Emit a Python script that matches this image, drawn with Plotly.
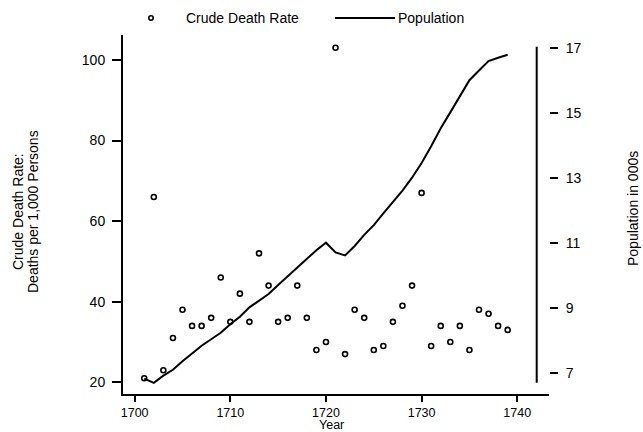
import plotly.graph_objects as go

years = list(range(1701, 1740))
death_rate = [21, 66, 23, 31, 38, 34, 34, 36, 46, 35,
              42, 35, 52, 44, 35, 36, 44, 36, 28, 30,
              103, 27, 38, 36, 28, 29, 35, 39, 44, 67,
              29, 34, 30, 34, 28, 38, 37, 34, 33]
population = [6.82, 6.69, 6.91, 7.09, 7.35, 7.60, 7.83, 8.03, 8.23, 8.49,
              8.72, 9.01, 9.21, 9.42, 9.70, 9.97, 10.23, 10.48, 10.77, 11.00,
              10.70, 10.61, 10.90, 11.24, 11.54, 11.90, 12.25, 12.60, 13.00, 13.45,
              13.97, 14.52, 15.01, 15.50, 16.00, 16.30, 16.59, 16.69, 16.78]

x_ticks = [1700, 1710, 1720, 1730, 1740]
left_ticks = [20, 40, 60, 80, 100]
right_ticks = [7, 9, 11, 13, 15, 17]

FONT = "Liberation Sans, Arial, sans-serif"
FS = 14
# plot area in window pixels (body margin removed by post_script)
PL, PR, PT, PB = 123, 549, 35, 394
W, H = 643, 432
L, R, T, B = PL, W - PR, PT, H - PB
PW, PH = PR - PL, PB - PT

def px(xp):
    return (xp - PL) / PW

def py(yp):
    return (PB - yp) / PH

fig = go.Figure()
fig.add_trace(go.Scatter(
    x=years, y=death_rate, mode="markers", name="Crude Death Rate",
    marker=dict(symbol="circle-open", size=5, color="black", line=dict(width=1.6)),
    yaxis="y", showlegend=False, hoverinfo="skip"))
fig.add_trace(go.Scatter(
    x=years, y=population, mode="lines", name="Population",
    line=dict(color="black", width=2), yaxis="y2", showlegend=False, hoverinfo="skip"))

shapes = [
    # right axis line
    dict(type="line", xref="paper", yref="y2", x0=px(536.7), x1=px(536.7),
         y0=min(population), y1=17.03, line=dict(color="black", width=2)),
    # legend line
    dict(type="line", xref="paper", yref="paper", x0=px(335), x1=px(395),
         y0=py(18), y1=py(18), line=dict(color="black", width=2)),
    # legend marker
    dict(type="circle", xref="paper", yref="paper", x0=px(148.8), x1=px(153.2),
         y0=py(20.2), y1=py(15.8), line=dict(color="black", width=1.6)),
]

def ann(text, x, y, angle=0, xanchor="center", size=FS):
    return dict(text=text, xref="paper", yref="paper", x=px(x), y=py(y),
                xanchor=xanchor, yanchor="middle", textangle=angle, showarrow=False,
                font=dict(size=size, color="black", family=FONT))

annotations = [
    ann("Crude Death Rate", 184, 18, xanchor="left"),
    ann("Population", 396, 18, xanchor="left"),
    ann("Year", 331, 424.5, size=12.5),
    ann("Crude Death Rate:", 18, 212, angle=-90),
    ann("Deaths per 1,000 Persons", 33, 212, angle=-90),
    ann("Population in 000s", 633, 209, angle=-90),
]

fig.update_layout(
    width=W, height=H,
    margin=dict(l=L, r=R, t=T, b=B, pad=0),
    paper_bgcolor="white", plot_bgcolor="white",
    font=dict(family=FONT, size=FS, color="black"),
    showlegend=False,
    xaxis=dict(range=[1698.78, 1743.32], tickvals=x_ticks, ticks="outside",
               ticklen=6, tickwidth=1.5, tickcolor="black",
               tickfont=dict(size=12.5),
               showline=True, linecolor="black", linewidth=2,
               showgrid=False, zeroline=False, ticklabelstandoff=0),
    yaxis=dict(range=[17.10, 106.18], tickvals=left_ticks, ticks="outside",
               ticklen=9, tickwidth=1.5, tickcolor="black",
               showline=True, linecolor="black", linewidth=2,
               showgrid=False, zeroline=False, ticklabelstandoff=4),
    yaxis2=dict(range=[6.345, 17.39], tickvals=right_ticks, overlaying="y",
                side="right", anchor="x", ticks="outside", ticklen=8,
                tickwidth=1.5, tickcolor="black", showline=False,
                showgrid=False, zeroline=False, ticklabelstandoff=5),
    shapes=shapes, annotations=annotations,
)

fig.write_html("out.html", config={"displayModeBar": False},
               post_script="document.body.style.margin='0';document.body.style.overflow='hidden';")
